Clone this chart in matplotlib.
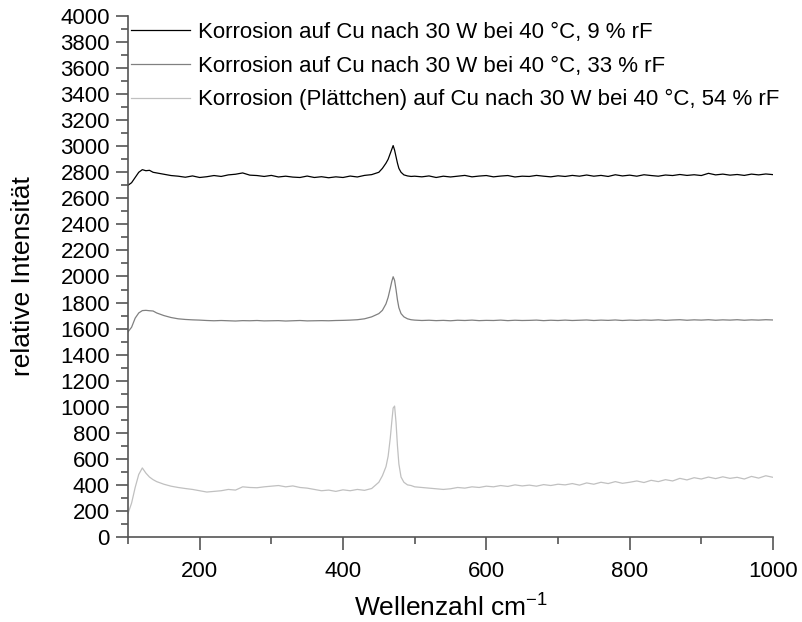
import numpy as np
import matplotlib.pyplot as plt

plt.rcParams['font.family'] = ['Liberation Sans', 'DejaVu Sans']
plt.rcParams['mathtext.fontset'] = 'custom'
plt.rcParams['mathtext.rm'] = 'Liberation Sans'
plt.rcParams['mathtext.default'] = 'regular'

# wavenumber sampling points (cm^-1)
wn = [100, 105, 110, 115, 120, 125, 130, 135, 140,
      150, 160, 170, 180, 190, 200, 210, 220, 230, 240,
      250, 260, 270, 280, 290, 300, 310, 320, 330, 340,
      350, 360, 370, 380, 390, 400, 410, 420, 430, 440,
      450, 455, 460, 463, 466, 468, 470, 472, 474, 476,
      478, 481, 485, 490, 495, 500,
      510, 520, 530, 540, 550, 560, 570, 580, 590, 600,
      610, 620, 630, 640, 650, 660, 670, 680, 690, 700,
      710, 720, 730, 740, 750, 760, 770, 780, 790, 800,
      810, 820, 830, 840, 850, 860, 870, 880, 890, 900,
      910, 920, 930, 940, 950, 960, 970, 980, 990, 1000]

# 9 % rF
int_9 = [2700, 2720, 2760, 2800, 2820, 2812, 2815, 2800, 2795,
         2785, 2775, 2770, 2762, 2772, 2760, 2766, 2775, 2768, 2780,
         2785, 2795, 2778, 2775, 2768, 2776, 2764, 2770, 2763, 2760,
         2771, 2760, 2766, 2758, 2765, 2760, 2771, 2764, 2776, 2782,
         2800, 2830, 2870, 2900, 2945, 2975, 3005, 2970, 2920, 2870,
         2830, 2800, 2780, 2772, 2768, 2770,
         2765, 2772, 2760, 2770, 2764, 2770, 2776, 2765, 2771, 2775,
         2765, 2771, 2775, 2764, 2770, 2768, 2776, 2770, 2765, 2773,
         2768, 2776, 2770, 2779, 2770, 2776, 2768, 2781, 2772, 2778,
         2770, 2781, 2775, 2770, 2779, 2775, 2783, 2776, 2781, 2775,
         2792, 2780, 2786, 2778, 2783, 2776, 2786, 2780, 2787, 2782]

# 33 % rF
int_33 = [1575, 1610, 1680, 1720, 1738, 1740, 1737, 1735, 1720,
          1700, 1685, 1675, 1670, 1667, 1665, 1662, 1660, 1662, 1660,
          1658, 1661, 1660, 1662, 1659, 1660, 1661, 1658, 1660, 1662,
          1659, 1660, 1661, 1660, 1662, 1663, 1665, 1668, 1675, 1690,
          1715, 1740, 1790, 1840, 1910, 1960, 1998, 1970, 1900, 1820,
          1760, 1715, 1690, 1675, 1668, 1665,
          1662, 1664, 1661, 1663, 1660, 1664, 1662, 1665, 1661, 1663,
          1662, 1665, 1661, 1664, 1662, 1663, 1665, 1661, 1664, 1662,
          1665, 1662, 1664, 1666, 1662, 1665, 1663, 1666, 1662, 1665,
          1663, 1666, 1664, 1667, 1663, 1666, 1668, 1664, 1667, 1665,
          1668, 1664, 1667, 1665, 1668, 1664, 1667, 1665, 1668, 1666]

# 54 % rF (Plaettchen)
int_54 = [180, 260, 380, 480, 530, 490, 460, 440, 425,
          405, 390, 380, 372, 365, 355, 345, 350, 355, 365,
          360, 385, 380, 378, 385, 390, 395, 385, 392, 380,
          375, 365, 355, 360, 350, 362, 355, 365, 358, 372,
          420, 470, 540, 620, 760, 880, 990, 1005, 880, 700,
          560, 460, 420, 400, 395, 385,
          380, 375, 370, 365, 370, 380, 375, 385, 380, 390,
          385, 395, 388, 400, 392, 398, 390, 402, 395, 405,
          400, 410, 398, 415, 405, 420, 410, 425, 412, 420,
          430, 418, 435, 425, 440, 430, 450, 438, 455, 445,
          460, 448, 462, 450, 458, 445, 465, 452, 470, 458]

labels = ['Korrosion auf Cu nach 30 W bei 40 °C, 9 % rF',
          'Korrosion auf Cu nach 30 W bei 40 °C, 33 % rF',
          'Korrosion (Plättchen) auf Cu nach 30 W bei 40 °C, 54 % rF']

fig = plt.figure(figsize=(8.02, 6.22), dpi=100)
ax = fig.add_axes([0.1596, 0.1367, 0.8042, 0.8376])

ax.plot(wn, int_9, color='black', lw=0.9, label=labels[0])
ax.plot(wn, int_33, color='#808080', lw=0.9, label=labels[1])
ax.plot(wn, int_54, color='#c0c0c0', lw=0.9, label=labels[2])

ax.set_xlim(100, 1000)
ax.set_ylim(0, 4000)
ax.set_xticks([200, 400, 600, 800, 1000])
ax.set_xticks(np.arange(100, 1001, 100), minor=True)
ax.set_yticks(np.arange(0, 4001, 200))
ax.set_yticks(np.arange(0, 4001, 100), minor=True)

for s in ['top', 'right']:
    ax.spines[s].set_visible(False)
for s in ['left', 'bottom']:
    ax.spines[s].set_color('#555555')
    ax.spines[s].set_linewidth(1.2)

ax.tick_params(which='major', length=9, width=1.2, color='#555555', labelsize=16, direction='out')
ax.tick_params(which='minor', length=5, width=1.2, color='#555555', direction='out')
ax.tick_params(axis='x', pad=8)
ax.tick_params(axis='y', pad=4)

ax.set_xlabel('Wellenzahl cm$^{-1}$', fontsize=19, labelpad=9)
ax.set_ylabel('relative Intensität', fontsize=19, labelpad=18)

ax.legend(loc='upper left', bbox_to_anchor=(0.004, 0.9885), frameon=False, fontsize=16,
          handlelength=2.66, handletextpad=0.36, labelspacing=0.57,
          borderaxespad=0, borderpad=0)

fig.savefig('out.png', dpi=100)
